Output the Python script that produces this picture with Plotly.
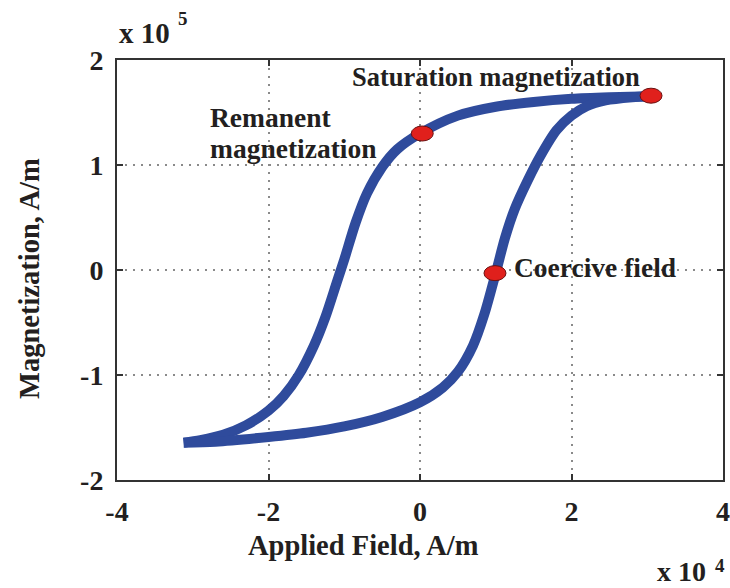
import plotly.graph_objects as go

# Applied field in units of 1e4 A/m, magnetization in units of 1e5 A/m
upper_H = [3.05, 2.5, 2.0, 1.5, 1.0, 0.5, 0.0, -0.3, -0.5, -0.7, -0.85, -1.0, -1.1, -1.25, -1.4, -1.6, -1.8, -2.0, -2.3, -2.6, -2.9, -3.12]
upper_M = [1.655, 1.645, 1.63, 1.60, 1.555, 1.47, 1.30, 1.15, 0.98, 0.73, 0.45, 0.10, -0.12, -0.45, -0.72, -1.0, -1.2, -1.34, -1.48, -1.57, -1.62, -1.645]

lower_H = [-3.12, -2.7, -2.0, -1.5, -1.0, -0.5, 0.0, 0.3, 0.5, 0.7, 0.85, 1.0, 1.12, 1.25, 1.42, 1.6, 1.8, 2.0, 2.2, 2.45, 2.8, 3.05]
lower_M = [-1.645, -1.635, -1.59, -1.55, -1.49, -1.40, -1.26, -1.12, -0.97, -0.72, -0.42, -0.03, 0.30, 0.58, 0.85, 1.10, 1.33, 1.47, 1.56, 1.615, 1.645, 1.655]

point_H = [3.05, 0.03, 0.99]
point_M = [1.66, 1.30, -0.03]

x_ticks = [-4, -2, 0, 2, 4]
y_ticks = [-2, -1, 0, 1, 2]

FONT = "Liberation Serif"
TXT = "#231f20"
BLUE = "#2f4b9c"

fig = go.Figure()
fig.add_trace(go.Scatter(x=upper_H, y=upper_M, mode="lines", line=dict(color=BLUE, width=10, shape="spline", smoothing=0.8), hoverinfo="skip"))
fig.add_trace(go.Scatter(x=lower_H, y=lower_M, mode="lines", line=dict(color=BLUE, width=10, shape="spline", smoothing=0.8), hoverinfo="skip"))

for h, m in zip(point_H, point_M):
    fig.add_shape(type="circle", xref="x", yref="y", xsizemode="pixel", ysizemode="pixel",
                  xanchor=h, yanchor=m, x0=-11, x1=11, y0=-7.5, y1=7.5,
                  fillcolor="#e0201c", line=dict(color="#6a1010", width=1), layer="above")

axis_common = dict(showline=True, linecolor="#333333", linewidth=2, mirror="ticks",
                   ticks="inside", ticklen=6, tickwidth=1.5, tickcolor="#333333",
                   showgrid=True, gridcolor="#8a8a8a", gridwidth=1.5, griddash="2px,6px",
                   zeroline=False, automargin=False,
                   tickfont=dict(family=FONT, size=28, color=TXT, weight="bold"))

fig.update_xaxes(range=[-4, 4], tickvals=x_ticks, ticktext=[str(v) for v in x_ticks],
                 ticklabelstandoff=5, **axis_common)
fig.update_yaxes(range=[-2, 2], tickvals=y_ticks, ticktext=[str(v) for v in y_ticks],
                 ticklabelstandoff=6, **axis_common)

def ann(text, x, y, size, xanchor="left", yanchor="middle", angle=0):
    fig.add_annotation(text=text, x=x, y=y, xref="paper", yref="paper", showarrow=False,
                       xanchor=xanchor, yanchor=yanchor, textangle=angle,
                       font=dict(family=FONT, size=size, color=TXT, weight="bold"))

ann("Saturation magnetization", 0.3845, 0.9595, 26.5)
ann("Remanent", 0.150, 0.862, 27.5)
ann("magnetization", 0.150, 0.790, 27.5)
ann("Coercive field", 0.652, 0.5048, 27.5)
ann("Applied Field, A/m", 0.406, -0.155, 28.5, xanchor="center")
ann("Magnetization, A/m", -0.1436, 0.481, 28.5, xanchor="center", angle=-90)
ann("x 10", 0.0, 1.064, 29)
ann("5", 0.0974, 1.098, 19)
ann("x 10", 0.888, -0.219, 28)
ann("4", 0.983, -0.203, 19)

fig.update_layout(width=730, height=588, margin=dict(l=117, r=7, t=60, b=108),
                  plot_bgcolor="white", paper_bgcolor="white", showlegend=False)

fig.write_html("out.html")
